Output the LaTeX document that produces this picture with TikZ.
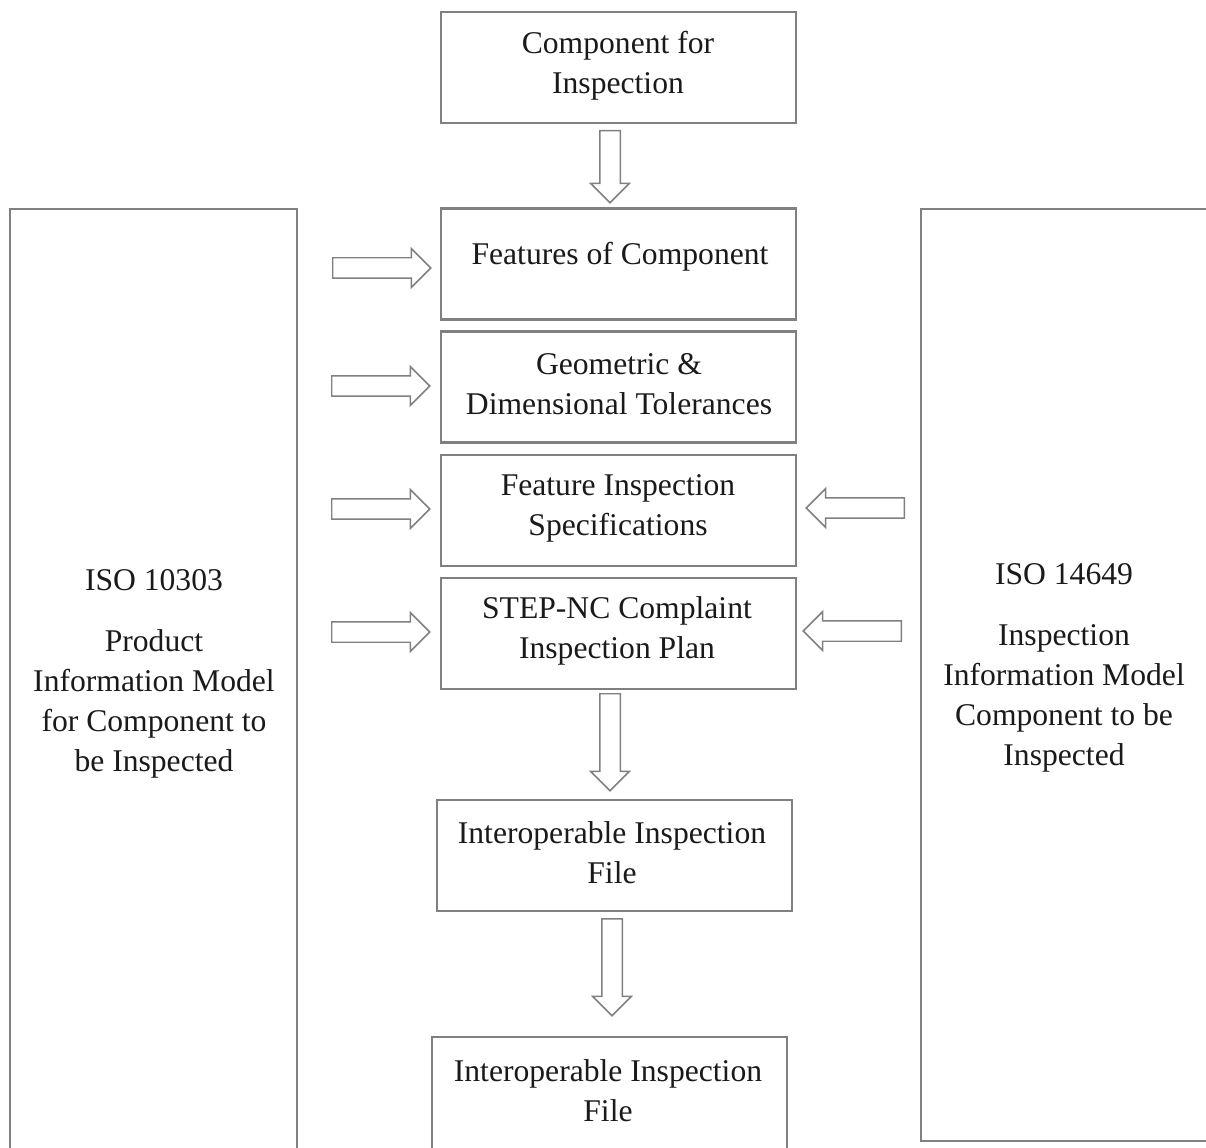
\documentclass[tikz,border=0pt]{standalone}
\usepackage{fontspec}
\setmainfont{Liberation Serif}
\usetikzlibrary{shapes.arrows,calc}
\definecolor{edge}{HTML}{808080}
\definecolor{ink}{HTML}{1A1A1A}
\begin{document}
\begin{tikzpicture}[x=0.02cm,y=-0.02cm,
  box/.style={draw=edge,line width=1.2pt,minimum width=7.1cm,minimum height=2.22cm,inner sep=0pt},
  sidebox/.style={draw=edge,line width=1.2pt,inner sep=0pt},
  txt/.style={text=ink,align=center,font=\fontsize{18}{22.7}\selectfont,inner sep=0pt},
  blk/.style={single arrow,draw=edge,line width=0.85pt,fill=white,inner sep=0.19cm,
    single arrow head extend=0.18cm,minimum height=1.96cm,anchor=tail},
  downblk/.style={blk,shape border rotate=270},
  leftblk/.style={blk,shape border rotate=180}]
\useasboundingbox (0,0) rectangle (1206,1148);
\clip (0,0) rectangle (1206,1148);

% side information models
\node[sidebox,minimum width=5.74cm,minimum height=19.6cm] (pim) at (153.5,699) {};
\node[txt] (pimtext) at (154,674) {ISO 10303\\[12pt]Product\\Information Model\\for Component to\\be Inspected};
\node[sidebox,minimum width=6.4cm,minimum height=18.64cm] (iim) at (1081,675) {};
\node[txt] (iimtext) at (1064,668) {ISO 14649\\[12pt]Inspection\\Information Model\\Component to be\\Inspected};

% central chain
\node[box] (comp) at (618.5,67.5) {};
\node[txt] at (618,66) {Component for\\Inspection};
\node[box] (feat) at (618.5,264) {};
\node[txt] at (620,257) {Features of Component};
\node[box] (geo) at (618.5,387) {};
\node[txt] at (619,384) {Geometric \&\\Dimensional Tolerances};
\node[box] (fis) at (618.5,510.5) {};
\node[txt] at (618,508) {Feature Inspection\\Specifications};
\node[box] (plan) at (618.5,633.5) {};
\node[txt] at (617,631) {STEP-NC Complaint\\Inspection Plan};
\node[box] (file1) at (614.5,855.5) {};
\node[txt] at (612,853) {Interoperable Inspection\\File};
\node[box,minimum height=2.28cm] (file2) at (609.5,1094) {};
\node[txt] at (608,1091) {Interoperable Inspection\\File};

% block arrows down the chain
\node[downblk,minimum height=1.44cm] (d1) at (610,130) {};
\node[downblk,minimum height=1.94cm] (d2) at (610,693) {};
\node[downblk,minimum height=1.94cm] (d3) at (612,918) {};

% block arrows from the product model
\node[blk] (l1) at (332,268) {};
\node[blk] (l2) at (331,386) {};
\node[blk] (l3) at (331,509) {};
\node[blk] (l4) at (331,632) {};

% block arrows from the inspection model
\node[leftblk] (r1) at (905,508) {};
\node[leftblk] (r2) at (902,631) {};
\end{tikzpicture}
\end{document}
